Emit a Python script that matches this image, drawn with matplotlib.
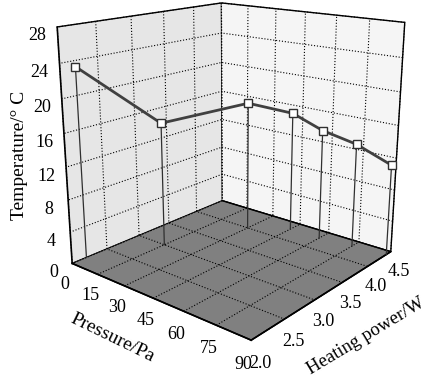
import matplotlib
matplotlib.use("Agg")
import matplotlib.pyplot as plt
import numpy as np

# Данные
pressure = [0, 15, 30, 45, 60, 75, 90]          # Pa
power = [2.2, 3.0, 4.0, 4.3, 4.3, 4.35, 4.4]    # W
temperature = [23.3, 15.7, 16.8, 15.6, 14.2, 13.2, 11.4]  # °C

p_ticks = [0, 15, 30, 45, 60, 75, 90]
h_ticks = [2.0, 2.5, 3.0, 3.5, 4.0, 4.5]
t_ticks = [0, 4, 8, 12, 16, 20, 24, 28]

plt.rcParams['font.family'] = ['Liberation Serif', 'DejaVu Serif']

fig = plt.figure(figsize=(4.32, 3.78), dpi=100)
ax = fig.add_axes([0.03, 0.1, 1.0, 1.0], projection='3d')
ax.set_proj_type('persp', focal_length=0.4)
ax.view_init(elev=17, azim=-50)
ax.set_box_aspect((1, 1, 1.03), zoom=1.06)

ax.set_xlim(0, 90)
ax.set_ylim(2.0, 4.5)
ax.set_zlim(0, 28)
ax.set_xticks(p_ticks)
ax.set_yticks(h_ticks)
ax.set_zticks(t_ticks)
ax.set_yticklabels(["%.1f" % v for v in h_ticks])

# Панели: левая стенка, правая стенка, пол
ax.xaxis.set_pane_color('#e6e6e6')
ax.yaxis.set_pane_color('#f5f5f5')
ax.zaxis.set_pane_color('#808080')
for a in (ax.xaxis, ax.yaxis, ax.zaxis):
    a.pane.set_edgecolor('k')
    a.pane.set_linewidth(1.0)
    a._axinfo['grid'].update(color='k', linestyle=':', linewidth=0.8)
    a._axinfo['tick'].update(inward_factor=0.0, outward_factor=0.0)
    a.line.set_color('k')
    a.line.set_linewidth(1.2)

ax.zaxis.set_ticks_position('lower')
ax.tick_params(axis='x', labelsize=13, pad=-2)
ax.tick_params(axis='y', labelsize=13, pad=-2)
ax.tick_params(axis='z', labelsize=13, pad=0)

# Вертикальные линии до пола
for p, h, t in zip(pressure, power, temperature):
    ax.plot([p, p], [h, h], [0, t], color='#303030', linewidth=0.9)

ax.plot(pressure, power, temperature, color='#404040', linewidth=2,
        marker='s', markersize=6, markerfacecolor='white',
        markeredgecolor='#303030', markeredgewidth=1)

# Подписи осей ставим вручную, как на исходном рисунке
fig.text(112 / 432, 1 - 338 / 378, "Pressure/Pa", fontsize=14,
         rotation=-26, ha='center', va='center')
fig.text(366 / 432, 1 - 336 / 378, "Heating power/W", fontsize=13.5,
         rotation=31, ha='center', va='center')
fig.text(20 / 432, 1 - 155 / 378, "Temperature/° C", fontsize=14,
         rotation=90, ha='center', va='center')

fig.savefig("out.png", dpi=100)
